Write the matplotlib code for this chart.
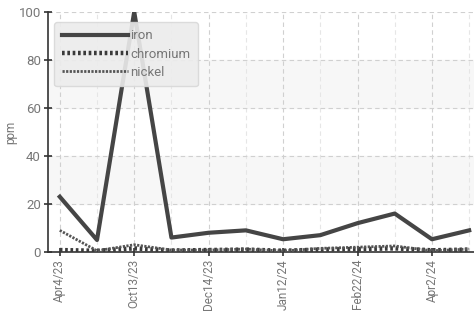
import numpy as np
import matplotlib
matplotlib.use("Agg")
import matplotlib.pyplot as plt

dates = ["Apr4/23", "Jul20/23", "Oct13/23", "Nov9/23", "Dec14/23", "Dec28/23",
         "Jan12/24", "Jan30/24", "Feb22/24", "Mar12/24", "Apr2/24", "Apr20/24"]
iron = [23, 5, 100, 6, 8, 9, 5.3, 7, 12, 16, 5.3, 9]
chromium = [0.8, 0.5, 1.5, 0.6, 0.8, 1.0, 0.5, 1.0, 1.2, 1.5, 0.7, 1.0]
nickel = [9, 0.5, 3, 0.8, 0.8, 1.2, 0.4, 1.5, 2.0, 2.5, 0.5, 1.2]

plt.rcParams['font.family'] = ['Roboto', 'DejaVu Sans']

fig = plt.figure(figsize=(4.74, 3.13), dpi=100)
ax = fig.add_axes([0.101, 0.195, 0.899, 0.767])

x = np.arange(len(dates))

# shaded bands
for lo in (20, 60):
    ax.axhspan(lo, lo + 20, color="#f7f7f7", zorder=0)

ax.plot(x, iron, color="#454545", lw=3, label="iron", zorder=3)
ax.plot(x, chromium, color="#3a3a3a", lw=3.2, ls=(0, (0.6, 0.6)), label="chromium", zorder=3)
ax.plot(x, nickel, color="#555555", lw=2, ls=(0, (0.8, 0.5)), label="nickel", zorder=3)

ax.set_ylim(0, 100)
ax.set_xlim(-0.32, 11.13)
ax.set_yticks([0, 20, 40, 60, 80, 100])
ax.set_xticks(x[::2])
ax.set_xticklabels(dates[::2], rotation=90)
ax.set_xticks(x, minor=True)

ax.grid(True, which="major", color="#d0d0d0", ls=(0, (4, 3)), lw=0.8)
ax.grid(True, which="minor", axis="x", color="#e6e6e6", ls=(0, (4, 3)), lw=0.8)

for s in ("top", "right"):
    ax.spines[s].set_visible(False)
for s in ("left", "bottom"):
    ax.spines[s].set_color("#333333")
    ax.spines[s].set_linewidth(1.2)
ax.tick_params(axis="both", colors="#333333", labelcolor="#777777",
               direction="inout", length=6, width=1.2, pad=2)
ax.tick_params(axis="y", labelsize=9.5)
ax.tick_params(axis="x", which="major", labelsize=8.5, pad=2)
ax.tick_params(axis="x", which="minor", length=0)
ax.set_ylabel("ppm", color="#777777", fontsize=8.5, labelpad=1)

leg = ax.legend(loc="upper left", bbox_to_anchor=(0.0, 0.985), handlelength=5.0,
                handletextpad=0.2, labelspacing=0.4, fontsize=9.5, fancybox=True,
                framealpha=0.9, facecolor="#ececec", edgecolor="#d8d8d8",
                borderpad=0.55)
for t in leg.get_texts():
    t.set_color("#777777")

fig.savefig("out.png", dpi=100)
